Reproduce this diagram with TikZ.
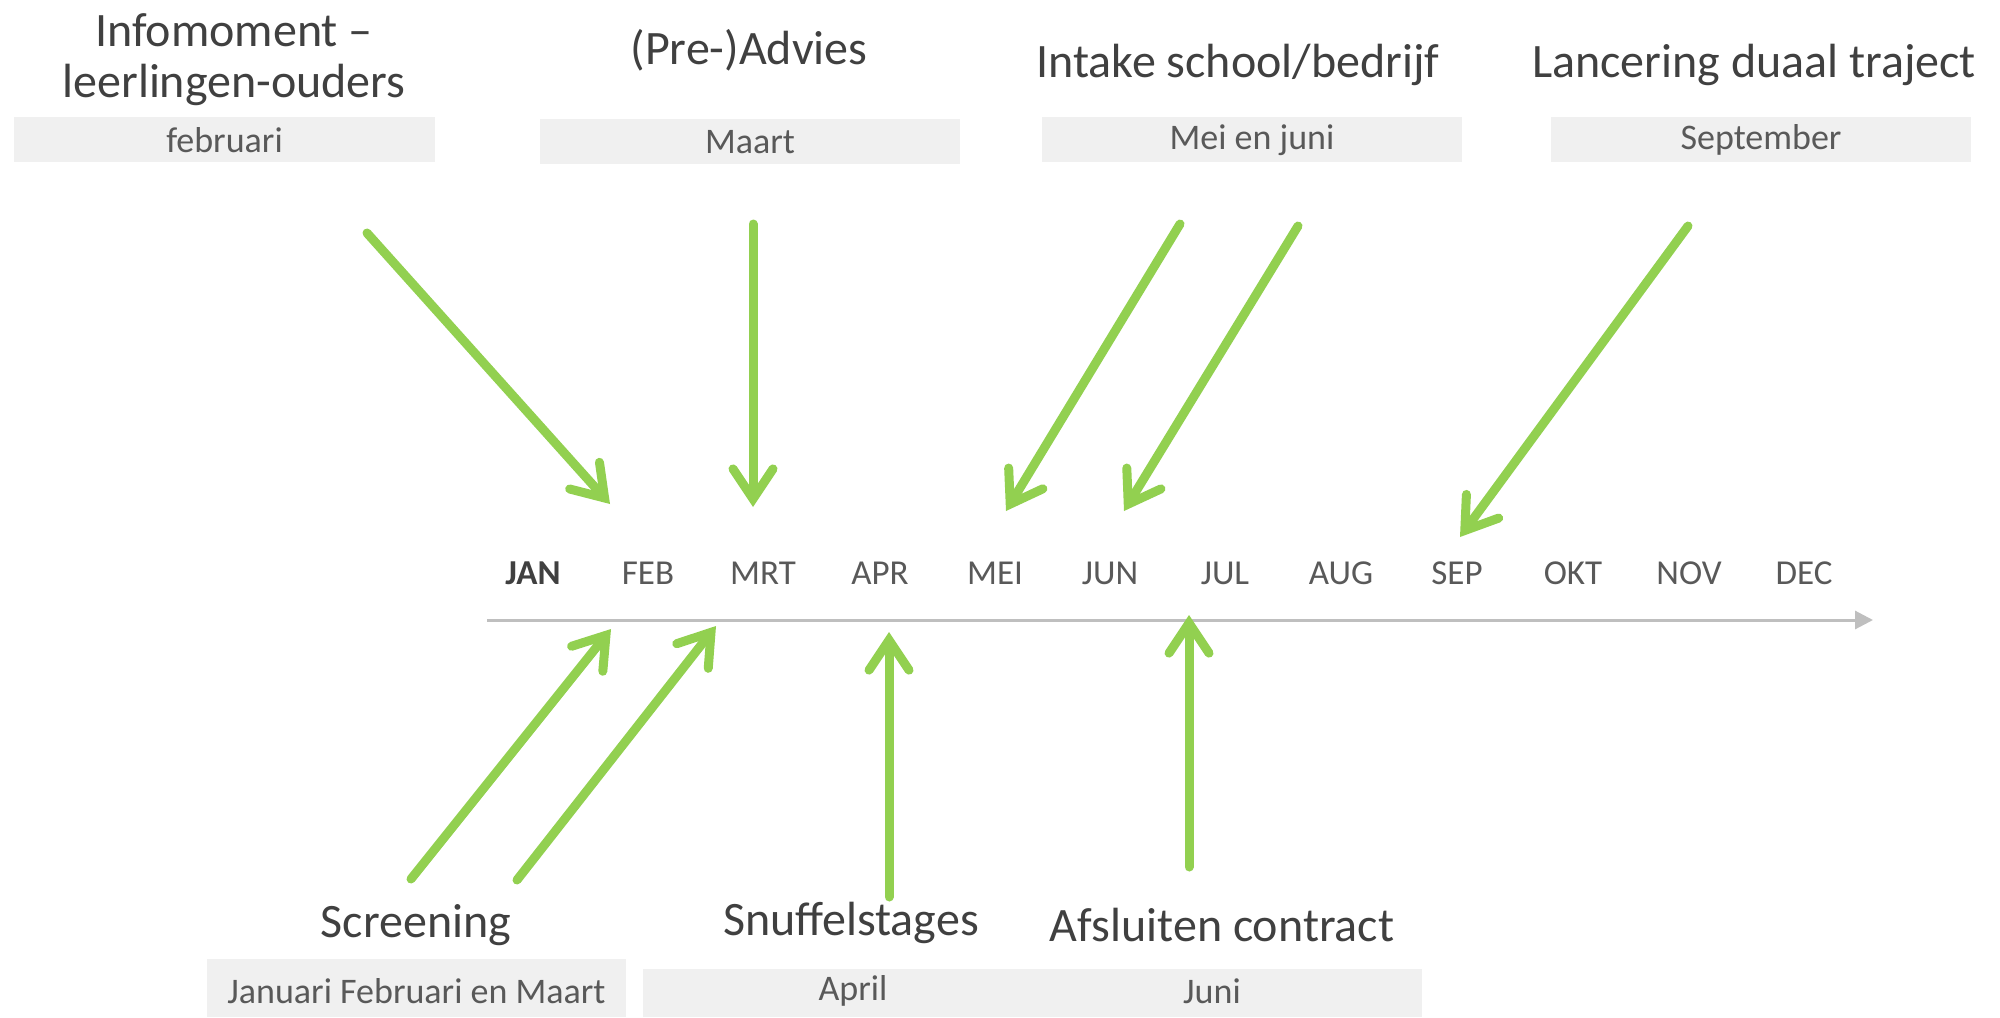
\documentclass[tikz,border=0pt]{standalone}
\usepackage{fontspec}
\setmainfont{Carlito}
\usetikzlibrary{arrows.meta}
\definecolor{grn}{HTML}{92D050}
\definecolor{ttl}{HTML}{404040}
\definecolor{sub}{HTML}{595959}
\definecolor{boxbg}{HTML}{F0F0F0}
\definecolor{axisc}{HTML}{BFBFBF}
\tikzset{
  title/.style={text=ttl, font=\fontsize{24}{25.5}\selectfont, anchor=base, align=center, inner sep=0pt},
  datebox/.style={fill=boxbg, draw=none, text=sub, font=\fontsize{18}{20}\selectfont, inner sep=0pt},
  month/.style={text=sub, font=\fontsize{17.5}{19}\selectfont, anchor=base, inner sep=0pt},
  garrow/.style={draw=grn, line width=4.5pt, line cap=round,
    -{Straight Barb[length=15pt,width=20pt,line cap=round,line join=miter]}},
}
\begin{document}
\begin{tikzpicture}[x=0.5pt,y=-0.5pt]
\useasboundingbox (0,0) rectangle (2000,1017);
% top titles
\node[title] (t1a) at (234,46) {Infomoment –};
\node[title] (t1b) at (234,97) {leerlingen-ouders};
\node[title] (t2) at (749,64) {(Pre-)Advies};
\node[title] (t3) at (1238,77) {Intake school/bedrijf};
\node[title] (t4) at (1754,77) {Lancering duaal traject};
% top date boxes
\path[fill=boxbg] (14,117) rectangle (435,162);
\node[datebox] (d1) at (224.5,140) {februari};
\path[fill=boxbg] (540,119) rectangle (960,164);
\node[datebox] (d2) at (750,142) {Maart};
\path[fill=boxbg] (1042,117) rectangle (1462,162);
\node[datebox] (d3) at (1252,140) {Mei en juni};
\path[fill=boxbg] (1551,117) rectangle (1971,162);
\node[datebox] (d4) at (1761,140) {September};
% months
\node[month, font=\fontsize{17.5}{19}\selectfont\bfseries, text=ttl] (jan) at (533,584) {JAN};
\node[month] (feb) at (648,584) {FEB};
\node[month] (mrt) at (763,584) {MRT};
\node[month] (apr) at (880,584) {APR};
\node[month] (mei) at (995,584) {MEI};
\node[month] (jun) at (1110,584) {JUN};
\node[month] (jul) at (1225,584) {JUL};
\node[month] (aug) at (1341,584) {AUG};
\node[month] (sep) at (1457,584) {SEP};
\node[month] (okt) at (1573,584) {OKT};
\node[month] (nov) at (1689,584) {NOV};
\node[month] (dec) at (1804,584) {DEC};
% axis
\coordinate (ax0) at (487,620);
\coordinate (ax1) at (1873,620);
\draw[axisc, line width=1.5pt, -{Triangle[length=9pt,width=9pt]}] (ax0) -- (ax1);
% bottom titles
\node[title] (b1) at (416,937) {Screening};
\node[title] (b2) at (851,935) {Snuffelstages};
\node[title] (b3) at (1222,941) {Afsluiten contract};
% bottom date boxes
\path[fill=boxbg] (207,959) rectangle (626,1017);
\node[datebox] (e1) at (416.5,991) {Januari Februari en Maart};
\path[fill=boxbg] (643,969) rectangle (1422,1017);
\node[datebox] (e2) at (853,991) {April};
\node[datebox] (e3) at (1212,991) {Juni};
% arrow end points
\coordinate (s1) at (367,233);  \coordinate (f1) at (610,504);
\coordinate (s2) at (753,224);  \coordinate (f2) at (753,507);
\coordinate (s3) at (1180,224); \coordinate (f3) at (1006,511);
\coordinate (s4) at (1298,226); \coordinate (f4) at (1124,511);
\coordinate (s5) at (1688,226); \coordinate (f5) at (1460,537);
\coordinate (s6) at (411,879);  \coordinate (f6) at (611,629);
\coordinate (s7) at (517,880);  \coordinate (f7) at (716,626);
\coordinate (s8) at (889,897);  \coordinate (f8) at (889,632);
\coordinate (s9) at (1189,867); \coordinate (f9) at (1189,615);
\foreach \i in {1,...,9} { \draw[garrow] (s\i) -- (f\i); }
\end{tikzpicture}
\end{document}
